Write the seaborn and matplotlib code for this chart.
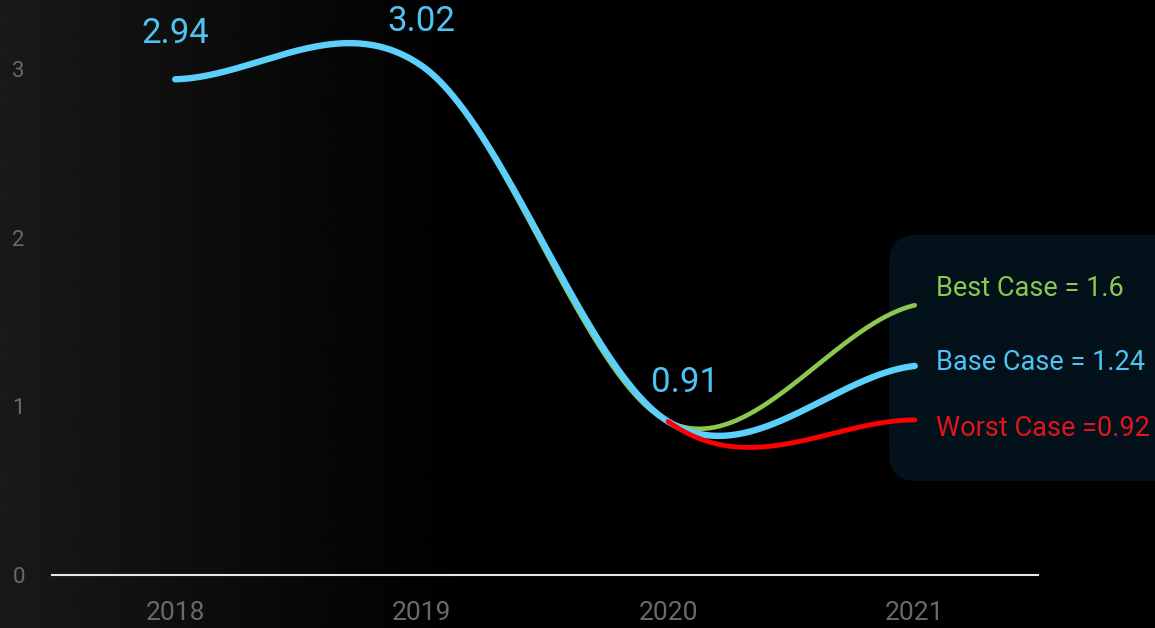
import numpy as np
import pandas as pd
import matplotlib
matplotlib.use('Agg')
import matplotlib.pyplot as plt
from matplotlib.patches import FancyBboxPatch
import seaborn as sns

# chart data
years = ['2018', '2019', '2020', '2021']
history = [2.94, 3.02, 0.91]
best_2021 = 1.6
base_2021 = 1.24
worst_2021 = 0.92
point_labels = ['2.94', '3.02', '0.91']

BLUE = '#5ccffb'
BLUE_TXT = '#4fc4f4'
GREEN = '#8cc850'
RED = '#ff0000'
RED_TXT = '#e3141c'
GRAY = '#6a6a6a'


def smooth(values, n=120):
    """Catmull-Rom curve through the points (x = 0, 1, 2, ...)"""
    p = np.asarray(values, dtype=float)
    k = len(p)
    m = np.zeros(k)
    m[1:-1] = (p[2:] - p[:-2]) / 2
    m[0] = (p[1] - p[0]) / 2
    m[-1] = (p[-1] - p[-2]) / 2
    xs, ys = [], []
    for i in range(k - 1):
        t = np.linspace(0, 1, n, endpoint=(i == k - 2))
        h00 = 2 * t**3 - 3 * t**2 + 1
        h10 = t**3 - 2 * t**2 + t
        h01 = -2 * t**3 + 3 * t**2
        h11 = t**3 - t**2
        ys.append(h00 * p[i] + h10 * m[i] + h01 * p[i + 1] + h11 * m[i + 1])
        xs.append(i + t)
    return pd.DataFrame({'x': np.concatenate(xs), 'y': np.concatenate(ys)})


sns.set_theme(style='white')
plt.rcParams['font.family'] = ['Roboto', 'DejaVu Sans']

fig = plt.figure(figsize=(11.55, 6.28), dpi=100)
fig.patch.set_facecolor('black')

# background: left-side grey gradient + scenario box
bg = fig.add_axes([0, 0, 1, 1], zorder=-10)
grad = np.linspace(0, 1, 600)
vals = 0.1 * np.clip(1 - grad / 0.42, 0, 1) ** 1.2
bg.imshow(np.tile(vals, (10, 1)), cmap='gray', vmin=0, vmax=1, aspect='auto',
          extent=[0, 1, 0, 1])
bg.set_xlim(0, 1)
bg.set_ylim(0, 1)
bg.axis('off')
box = FancyBboxPatch((889 / 1155, 147 / 628), 300 / 1155, 246 / 628,
                     boxstyle='round,pad=0,rounding_size=0.024',
                     transform=bg.transAxes, facecolor='#02111a',
                     edgecolor='none', zorder=5, mutation_aspect=1155 / 628)
bg.add_patch(box)

ax = fig.add_axes([0.045, 0.0844, 0.8537, 0.886])
ax.patch.set_alpha(0)

best = smooth(history + [best_2021])
base = smooth(history + [base_2021])
worst = smooth(history + [worst_2021])
worst = worst[worst['x'] >= 2]

sns.lineplot(data=best, x='x', y='y', ax=ax, color=GREEN, lw=3.3, sort=False, zorder=2,
             solid_capstyle='round')
sns.lineplot(data=base, x='x', y='y', ax=ax, color=BLUE, lw=4.6, sort=False, zorder=3,
             solid_capstyle='round')
sns.lineplot(data=worst, x='x', y='y', ax=ax, color=RED, lw=3.5, sort=False, zorder=4,
             solid_capstyle='round')

offsets = [(0, 33), (0, 32), (12, 28)]
for i, (v, lab) in enumerate(zip(history, point_labels)):
    ax.annotate(lab, (i, v), xytext=offsets[i], textcoords='offset points',
                ha='center', va='center', color=BLUE_TXT, fontsize=25)

ax.set_xlim(-0.5, 3.5)
ax.set_ylim(0, 3.3)
ax.set_xticks(range(len(years)))
ax.set_xticklabels(years)
ax.set_yticks([0, 1, 2, 3])
ax.set_yticklabels(['0', '1', '2', '3'])
ax.set_xlabel('')
ax.set_ylabel('')
ax.tick_params(axis='x', colors=GRAY, labelsize=19, length=0, pad=19)
ax.tick_params(axis='y', colors=GRAY, labelsize=16, length=0, pad=24)
for lab in ax.get_yticklabels():
    lab.set_horizontalalignment('center')
for s in ['top', 'right', 'left']:
    ax.spines[s].set_visible(False)
ax.spines['bottom'].set_color('#e6e6e6')
ax.spines['bottom'].set_linewidth(1.5)
ax.spines['bottom'].set_zorder(1)

fig.text(936 / 1155, 1 - 288 / 628, 'Best Case = 1.6', color=GREEN, fontsize=19.5,
         va='center', ha='left')
fig.text(936 / 1155, 1 - 363 / 628, 'Base Case = 1.24', color=BLUE_TXT, fontsize=19.5,
         va='center', ha='left')
fig.text(936 / 1155, 1 - 429 / 628, 'Worst Case =0.92', color=RED_TXT, fontsize=19.5,
         va='center', ha='left')

fig.savefig('out.png', dpi=100, facecolor='black')
